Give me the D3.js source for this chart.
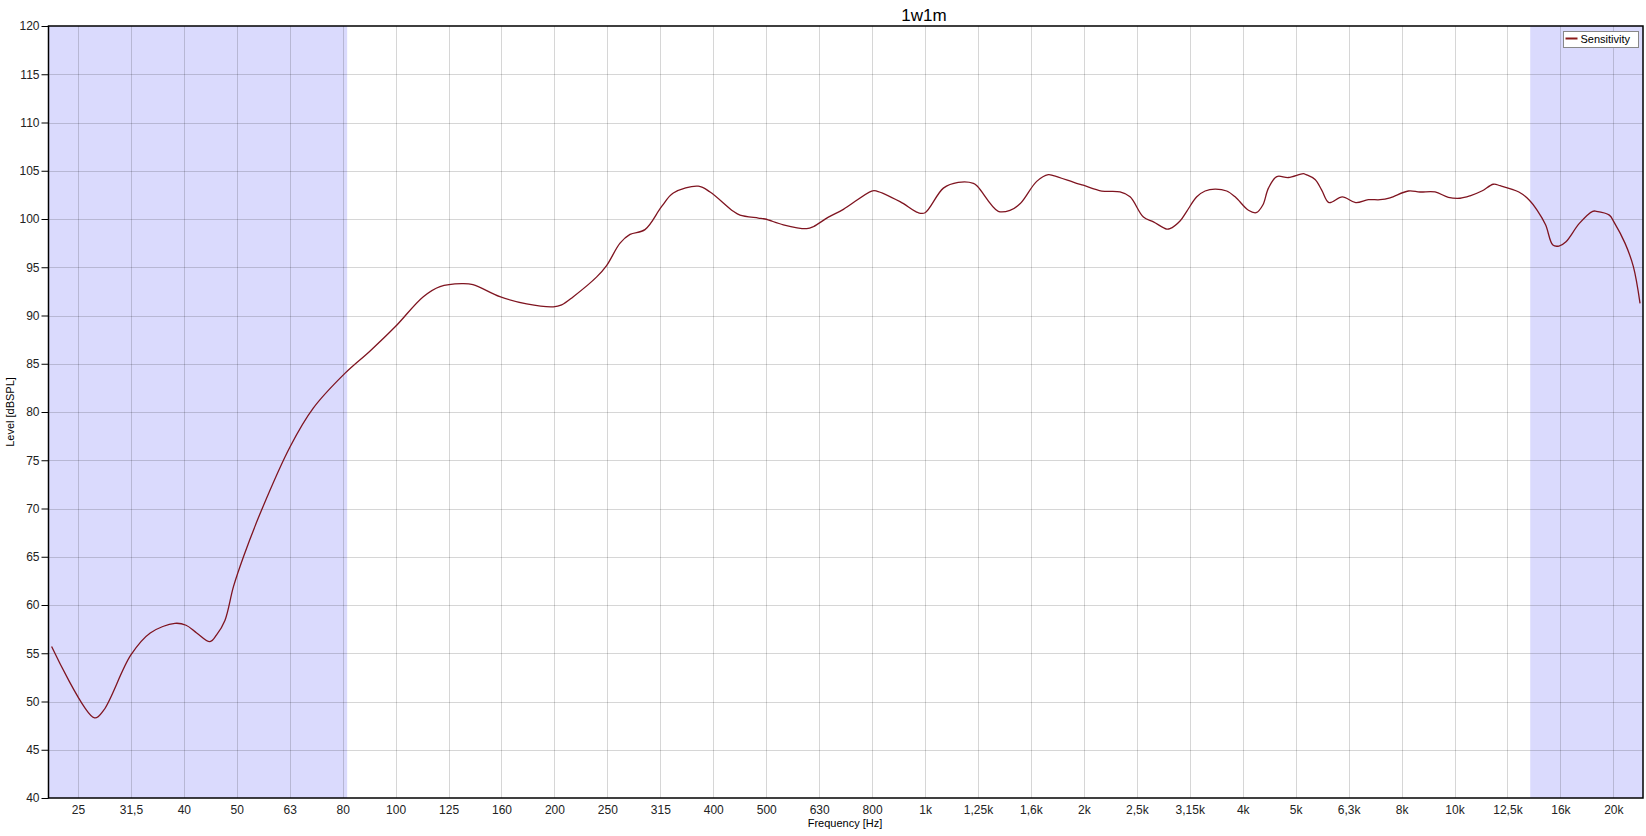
<!DOCTYPE html>
<html lang="en">
<head>
<meta charset="UTF-8">
<title>1w1m</title>
<script src="https://cdn.jsdelivr.net/npm/d3@7"></script>
<style>
    body { margin: 0; background: #fff; }
    svg { display: block; font-family: "Liberation Sans", Arial, sans-serif; }
</style>
</head>
<body>
<script>
'use strict';

// frequency (Hz) / level (dB SPL)
var freqs = [22.4, 27.0, 28.1, 31.6, 34.4, 38.3, 40.2, 42.1, 44.6, 45.9, 47.6, 49.4, 51.6, 55.4,
    63.2, 69.9, 80.2, 89.4, 99.7, 112.8, 121.3, 133.3, 140, 157.4, 176.8, 198.6, 205.9, 216.6, 239.8,
    250.5, 265.4, 277.2, 295.8, 318.1, 334.6, 373.1, 392.6, 434.3, 447.2, 484.2, 498.6, 540, 597.6, 615,
    656.8, 701, 792.8, 810, 896.9, 971, 1000, 1083, 1155, 1234, 1258, 1375, 1447, 1513, 1625, 1709, 1747,
    1933, 1990, 2157, 2335, 2439, 2585, 2700, 2861, 2900, 3031, 3121, 3260, 3380, 3530, 3713, 3851,
    4081, 4220, 4345, 4452, 4617, 4856, 5183, 5243, 5453, 5613, 5794, 6139, 6508, 6875, 7235, 7556,
    8180, 8606, 9189, 9736, 10245, 10700, 11260, 11840, 12200, 13230, 13820, 14330, 14860, 15340,
    15750, 16240, 17210, 18240, 18530, 19610, 20000, 20990, 21770, 22410];
var levels = [55.7, 48.3, 49.1, 54.8, 57.1, 58.1, 57.9, 57.1, 56.2, 56.9, 58.4, 61.9, 65.0, 69.4,
    76.4, 80.4, 84.0, 86.3, 88.8, 91.95, 93.0, 93.3, 93.2, 91.95, 91.2, 90.9, 91.1, 91.95, 94.0,
    95.2, 97.5, 98.4, 98.9, 101.3, 102.7, 103.4, 102.8, 100.8, 100.4, 100.1, 100.0, 99.4, 99.0, 99.2,
    100.2, 101.0, 102.9, 102.9, 101.8, 100.65, 100.65, 103.2, 103.8, 103.7, 103.35, 100.8, 100.9, 101.6, 103.9, 104.6, 104.5,
    103.7, 103.5, 102.9, 102.8, 102.3, 100.2, 99.7, 98.96, 99.0, 99.8, 100.8, 102.3, 102.9, 103.1, 102.9, 102.3,
    100.9, 100.65, 101.45, 103.2, 104.4, 104.3, 104.7, 104.6, 104.1, 103.0, 101.7, 102.3, 101.7, 102.0, 102.0, 102.2,
    102.9, 102.8, 102.8, 102.25, 102.15, 102.4, 102.9, 103.6, 103.45, 102.8, 102.0, 100.9, 99.4, 97.3,
    97.2, 97.65, 99.55, 100.8, 100.8, 100.4, 99.7, 97.5, 95.06, 91.26];

// third-octave tick labels, 25 Hz .. 20 kHz
var tickLabels = ['25', '31,5', '40', '50', '63', '80', '100', '125', '160', '200', '250', '315', '400',
    '500', '630', '800', '1k', '1,25k', '1,6k', '2k', '2,5k', '3,15k', '4k', '5k', '6,3k', '8k', '10k',
    '12,5k', '16k', '20k'];
var tickFreqs = tickLabels.map(function(d, i) { return Math.pow(10, 1.4 + i / 10); });
var yTicks = d3.range(40, 121, 5);

// shaded bands (Hz)
var bands = [[22.1, 81], [13900, 22700]];

var W = 1646, H = 836;
var pL = 48.5, pR = 1643, pT = 26, pB = 798;

var svg = d3.select('body').append('svg')
    .attr('width', W)
    .attr('height', H);

var x = d3.scaleLog().domain([22.1, 22700]).range([pL, pR]);
var y = d3.scaleLinear().domain([40, 120]).range([pB, pT]);

// bands
svg.append('g').selectAll('rect')
    .data(bands)
    .enter().append('rect')
    .attr('x', function(d) { return x(d[0]); })
    .attr('y', pT)
    .attr('width', function(d) { return x(d[1]) - x(d[0]); })
    .attr('height', pB - pT)
    .style('fill', '#dadafd');

// grid
var grid = svg.append('g').style('stroke', 'rgba(0,0,0,0.16)').style('stroke-width', 1);
grid.selectAll('.vg').data(tickFreqs).enter().append('line')
    .attr('x1', function(d) { return Math.round(x(d)) + 0.5; })
    .attr('x2', function(d) { return Math.round(x(d)) + 0.5; })
    .attr('y1', pT).attr('y2', pB);
grid.selectAll('.hg').data(yTicks.slice(1, -1)).enter().append('line')
    .attr('x1', pL).attr('x2', pR)
    .attr('y1', function(d) { return Math.round(y(d)) + 0.5; })
    .attr('y2', function(d) { return Math.round(y(d)) + 0.5; });

// curve
var pts = freqs.map(function(f, i) { return [f, levels[i]]; });
var line = d3.line()
    .x(function(d) { return x(d[0]); })
    .y(function(d) { return y(d[1]); })
    .curve(d3.curveCatmullRom.alpha(0.5));
svg.append('path')
    .datum(pts)
    .attr('d', line)
    .style('fill', 'none')
    .style('stroke', '#7f1420')
    .style('stroke-width', 1.3);

// frame
svg.append('rect')
    .attr('x', pL).attr('y', pT)
    .attr('width', pR - pL).attr('height', pB - pT)
    .style('fill', 'none').style('stroke', '#000').style('stroke-width', 1.5);

// axes
var axisB = d3.axisBottom(x)
    .tickValues(tickFreqs)
    .tickFormat(function(d, i) { return tickLabels[i]; })
    .tickSize(0)
    .tickPadding(7);
var gx = svg.append('g')
    .attr('transform', 'translate(0,' + pB + ')')
    .call(axisB);
gx.select('.domain').remove();

var axisL = d3.axisLeft(y)
    .tickValues(yTicks)
    .tickSize(7)
    .tickPadding(2);
var gy = svg.append('g')
    .attr('transform', 'translate(' + pL + ',0)')
    .call(axisL);
gy.select('.domain').remove();

svg.selectAll('.tick text')
    .style('font-size', '12px')
    .style('fill', '#222')
    .style('font-family', '"Liberation Sans", Arial, sans-serif');

// titles
svg.append('text')
    .attr('x', 924).attr('y', 21)
    .attr('text-anchor', 'middle')
    .style('font-size', '17px')
    .text('1w1m');

svg.append('text')
    .attr('x', 845).attr('y', 827)
    .attr('text-anchor', 'middle')
    .style('font-size', '11px')
    .text('Frequency [Hz]');

svg.append('text')
    .attr('transform', 'translate(14,' + ((pT + pB) / 2) + ') rotate(-90)')
    .attr('text-anchor', 'middle')
    .style('font-size', '11px')
    .text('Level [dBSPL]');

// legend
var lg = svg.append('g').attr('transform', 'translate(1563.5,31.5)');
lg.append('rect')
    .attr('width', 75).attr('height', 16)
    .style('fill', '#fff').style('stroke', '#888');
lg.append('line')
    .attr('x1', 2).attr('x2', 14).attr('y1', 7).attr('y2', 7)
    .style('stroke', '#8b1a1a').style('stroke-width', 2);
lg.append('text')
    .attr('x', 17).attr('y', 11.5)
    .style('font-size', '11px')
    .text('Sensitivity');
</script>
</body>
</html>
